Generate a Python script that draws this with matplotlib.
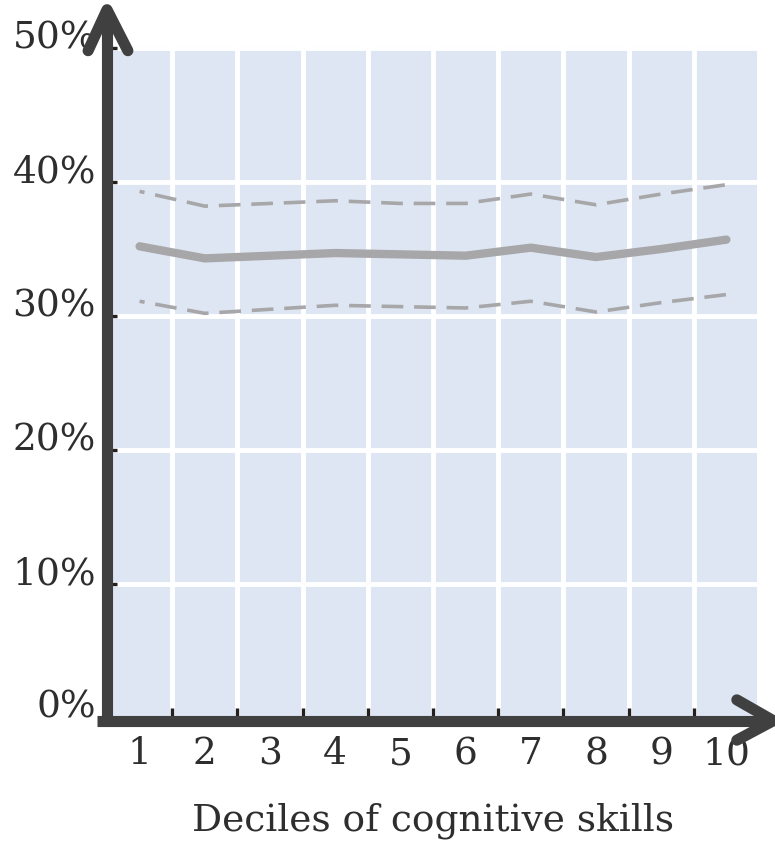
import numpy as np
import matplotlib.pyplot as plt

# deciles of cognitive skills and estimated shares (%)
deciles = [1, 2, 3, 4, 5, 6, 7, 8, 9, 10]
estimate = [35.2, 34.3, 34.5, 34.7, 34.6, 34.5, 35.1, 34.4, 35.0, 35.7]
upper_ci = [39.3, 38.2, 38.4, 38.6, 38.4, 38.4, 39.1, 38.3, 39.1, 39.8]
lower_ci = [31.1, 30.2, 30.5, 30.8, 30.7, 30.6, 31.1, 30.3, 31.0, 31.6]
y_ticks = [0, 10, 20, 30, 40, 50]
y_labels = ["0%", "10%", "20%", "30%", "40%", "50%"]

bg = "#dfe6f3"
axis_col = "#404040"
line_col = "#a7a7a9"
text_col = "#2e2e2e"
font = "DejaVu Serif"
fs = 27

fig = plt.figure(figsize=(7.75, 8.42), dpi=100)
ax = fig.add_axes([107 / 775, 124 / 842, 652 / 775, 672 / 842])
ax.set_facecolor(bg)
ax.set_xlim(0.5, 10.5)
ax.set_ylim(0, 50.15)

for s in ax.spines.values():
    s.set_visible(False)

# grid at column boundaries and every 10%
ax.set_xticks(np.arange(1.5, 11, 1))
ax.set_xticks(deciles, minor=True)
ax.set_xticklabels([], minor=False)
ax.set_xticklabels([str(d) for d in deciles], minor=True, fontsize=fs,
                   family=font, color=text_col)
ax.set_yticks(y_ticks)
ax.set_yticklabels(y_labels, fontsize=fs, family=font, color=text_col)
for lab in ax.get_yticklabels():
    lab.set_verticalalignment("baseline")

ax.tick_params(axis="both", which="major", direction="in", length=7,
               width=2.4, color="#231f20")
ax.tick_params(axis="y", pad=8)
ax.tick_params(axis="x", which="minor", length=0, pad=13)
ax.grid(True, which="major", color="white", lw=3.5)
ax.set_axisbelow(True)

# confidence bounds and estimate
ax.plot(deciles, upper_ci, color=line_col, lw=2.6, ls=(4.6, (6, 3)),
        zorder=3)
ax.plot(deciles, lower_ci, color=line_col, lw=2.6, ls=(4.6, (6, 3)),
        zorder=3)
ax.plot(deciles, estimate, color=line_col, lw=6, solid_capstyle="round",
        zorder=4)

ax.set_xlabel("Deciles of cognitive skills", fontsize=fs, family=font,
              color=text_col, labelpad=22)

# arrow-shaped axes
kw = dict(color=axis_col, lw=8, transform=ax.transAxes, clip_on=False,
          solid_capstyle="round", solid_joinstyle="round", zorder=6)
ax.plot([0, 0], [-0.012, 1.05], **dict(kw, solid_capstyle="butt"))
ax.plot([-0.029, 0, 0.032], [0.993, 1.054, 0.993], **kw)
ax.plot([-0.015, 1.02], [-0.004, -0.004], **dict(kw, solid_capstyle="butt"))
ax.plot([0.966, 1.022, 0.966], [0.027, -0.004, -0.033], **kw)

fig.savefig("out.png", dpi=100)
